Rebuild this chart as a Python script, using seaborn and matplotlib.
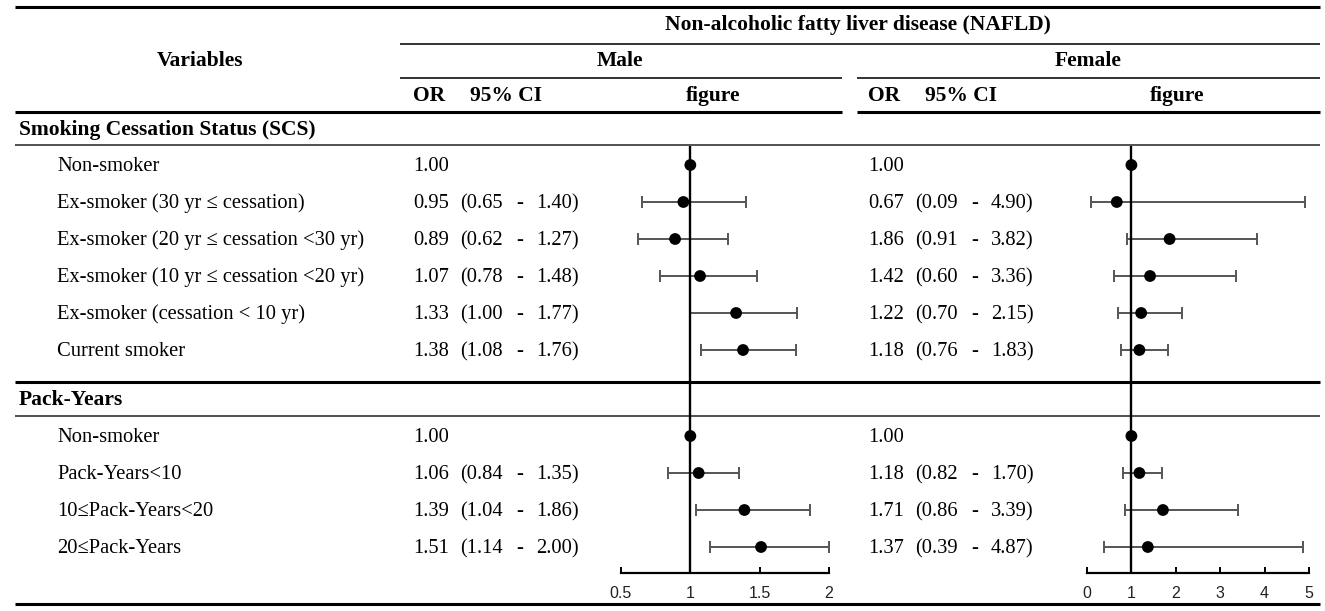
import matplotlib
matplotlib.use("Agg")
import matplotlib.pyplot as plt
import seaborn as sns
import pandas as pd

# ---------------- data ----------------
scs_labels = ["Non-smoker", "Ex-smoker (30 yr \u2264 cessation)",
              "Ex-smoker (20 yr \u2264 cessation <30 yr)",
              "Ex-smoker (10 yr \u2264 cessation <20 yr)",
              "Ex-smoker (cessation < 10 yr)", "Current smoker"]
pack_labels = ["Non-smoker", "Pack-Years<10", "10\u2264Pack-Years<20", "20\u2264Pack-Years"]

male_or = [1.00, 0.95, 0.89, 1.07, 1.33, 1.38, 1.00, 1.06, 1.39, 1.51]
male_lo = [None, 0.65, 0.62, 0.78, 1.00, 1.08, None, 0.84, 1.04, 1.14]
male_hi = [None, 1.40, 1.27, 1.48, 1.77, 1.76, None, 1.35, 1.86, 2.00]

female_or = [1.00, 0.67, 1.86, 1.42, 1.22, 1.18, 1.00, 1.18, 1.71, 1.37]
female_lo = [None, 0.09, 0.91, 0.60, 0.70, 0.76, None, 0.82, 0.86, 0.39]
female_hi = [None, 4.90, 3.82, 3.36, 2.15, 1.83, None, 1.70, 3.39, 4.87]

male_ticks = [0.5, 1, 1.5, 2]
female_ticks = [0, 1, 2, 3, 4, 5]

# ---------------- layout (pixels) ----------------
W, H = 1325, 611
row_y = [165, 202, 239, 276, 313, 350, 436, 473, 510, 547]

sns.set_theme(style="white")
plt.rcParams["font.family"] = ["Liberation Serif", "DejaVu Serif"]

fig = plt.figure(figsize=(W / 100, H / 100), dpi=100)
base = fig.add_axes([0, 0, 1, 1])
base.set_xlim(0, W)
base.set_ylim(H, 0)
base.axis("off")

def hline(y, x0, x1, lw, color="black"):
    base.plot([x0, x1], [y, y], color=color, lw=lw, solid_capstyle="butt")

L, R = 15, 1320
hline(7, L, R, 2.2)
hline(44, 400, R, 1.3, "#222222")
hline(78, 400, 842, 1.3, "#222222")
hline(78, 857, R, 1.3, "#222222")
hline(112, L, 842, 2.2)
hline(112, 857, R, 2.2)
hline(145, L, R, 1.2, "#333333")
hline(382, L, R, 2.2)
hline(416, L, R, 1.2, "#333333")
hline(604, L, R, 2.2)

FS = 14.8
BS = 15.5
def txt(x, y, s, ha="left", bold=False, size=FS):
    base.text(x, y + 6, s, ha=ha, va="baseline", fontsize=size,
              fontweight="bold" if bold else "normal", color="black")

txt(858, 24, "Non-alcoholic fatty liver disease (NAFLD)", ha="center", bold=True, size=BS)
txt(200, 60, "Variables", ha="center", bold=True, size=BS)
txt(620, 60, "Male", ha="center", bold=True, size=BS)
txt(1088, 60, "Female", ha="center", bold=True, size=BS)
for dx in (0, 455):
    txt(413 + dx, 95, "OR", bold=True, size=BS)
    txt(470 + dx, 95, "95% CI", bold=True, size=BS)
txt(713, 95, "figure", ha="center", bold=True, size=BS)
txt(1177, 95, "figure", ha="center", bold=True, size=BS)
txt(19, 129, "Smoking Cessation Status (SCS)", bold=True, size=BS)
txt(19, 399, "Pack-Years", bold=True, size=BS)

for lab, y in zip(scs_labels + pack_labels, row_y):
    txt(57, y, lab)

def fmt_cols(ors, los, his, dx):
    for o, lo, hi, y in zip(ors, los, his, row_y):
        txt(413 + dx, y, f"{o:.2f}")
        if lo is not None:
            txt(460 + dx, y, f"({lo:.2f}")
            txt(520 + dx, y, "-", ha="center")
            txt(536 + dx, y, f"{hi:.2f})")

fmt_cols(male_or, male_lo, male_hi, 0)
fmt_cols(female_or, female_lo, female_hi, 455)

# ---------------- forest panels ----------------
def forest(x0px, x1px, xlim, ticks, ors, los, his):
    ax = fig.add_axes([x0px / W, 1 - 573 / H, (x1px - x0px) / W, (573 - 146) / H])
    ax.set_xlim(*xlim)
    ax.set_ylim(573, 146)
    ax.patch.set_alpha(0)
    df = pd.DataFrame({"or": ors, "lo": los, "hi": his, "y": row_y})
    ci = df.dropna()
    ax.errorbar(ci["or"], ci["y"],
                xerr=[ci["or"] - ci["lo"], ci["hi"] - ci["or"]],
                fmt="none", ecolor="#555555", elinewidth=1.4,
                capsize=4, capthick=1.4, zorder=2)
    ax.axvline(1, color="black", lw=1.7, zorder=3)
    sns.scatterplot(data=df, x="or", y="y", ax=ax, color="black", s=72,
                    edgecolor="none", zorder=4, legend=False)
    for s in ("top", "left", "right"):
        ax.spines[s].set_visible(False)
    ax.spines["bottom"].set_color("black")
    ax.spines["bottom"].set_linewidth(1.6)
    ax.set_xticks(ticks)
    ax.set_xticklabels([f"{t:g}" for t in ticks], fontfamily="Liberation Sans",
                       fontsize=11.5, color="#222222")
    ax.tick_params(axis="x", direction="in", length=4, width=1.4,
                   color="black", pad=9, bottom=True)
    ax.set_yticks([])
    ax.set_xlabel("")
    ax.set_ylabel("")
    ax.grid(False)
    return ax

forest(621, 829, (0.5, 2), male_ticks, male_or, male_lo, male_hi)
forest(1087, 1309, (0, 5), female_ticks, female_or, female_lo, female_hi)

fig.savefig("out.png", dpi=100)
